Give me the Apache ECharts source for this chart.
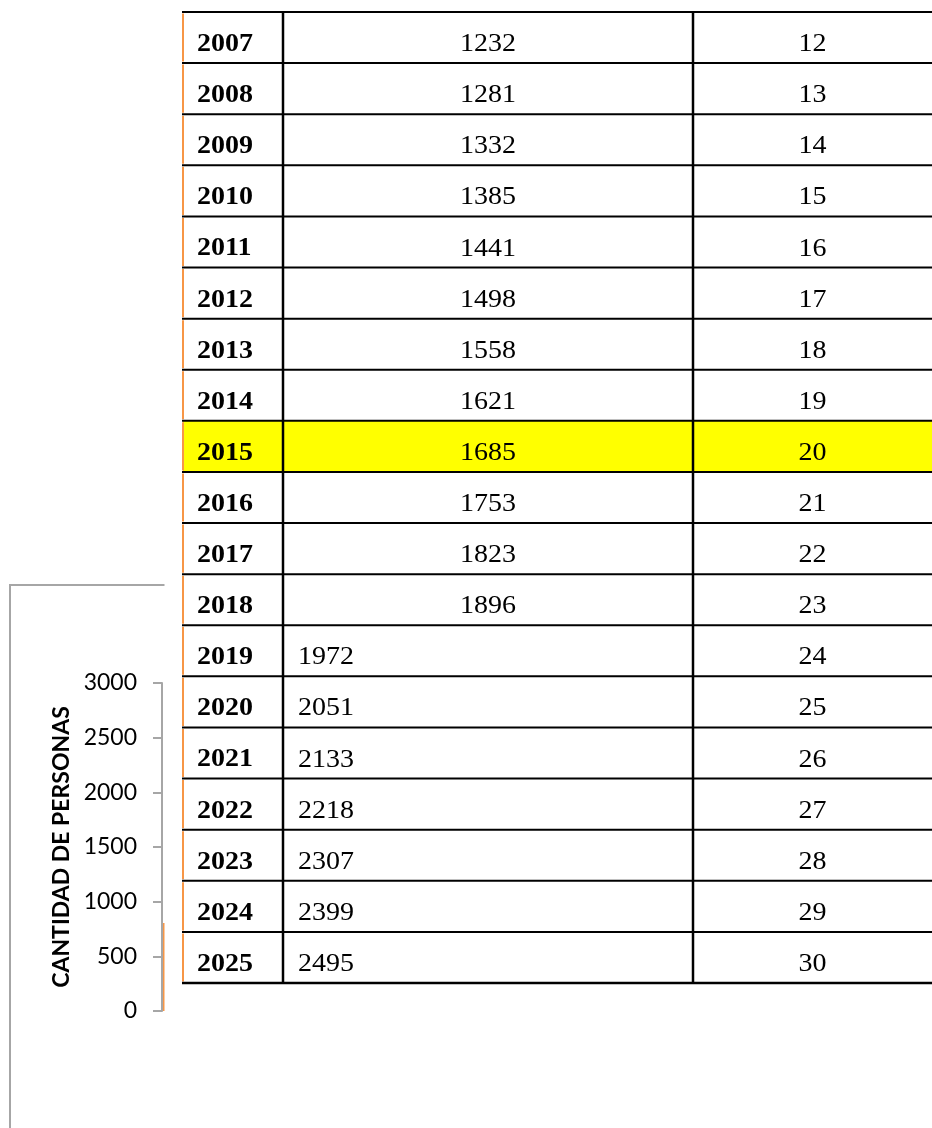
<!DOCTYPE html>
<html>
<head>
<meta charset="utf-8">
<script src="https://cdn.jsdelivr.net/npm/echarts@6/dist/echarts.min.js"></script>
<style>
	html, body { margin: 0; padding: 0; background: #ffffff; }
	#container { width: 932px; height: 1128px; }
</style>
</head>
<body>
<div id="container"></div>
<script>
// datos de la tabla
var anios = [ '2007', '2008', '2009', '2010', '2011', '2012', '2013', '2014', '2015', '2016',
	'2017', '2018', '2019', '2020', '2021', '2022', '2023', '2024', '2025' ];
var poblacion = [ 1232, 1281, 1332, 1385, 1441, 1498, 1558, 1621, 1685, 1753,
	1823, 1896, 1972, 2051, 2133, 2218, 2307, 2399, 2495 ];
var indice = [ 12, 13, 14, 15, 16, 17, 18, 19, 20, 21, 22, 23, 24, 25, 26, 27, 28, 29, 30 ];
var anioResaltado = '2015';

// grafico de fondo (solo se ve el borde de la primera barra)
var barraGrafico = [ 805 ];
var ticksY = [ 0, 500, 1000, 1500, 2000, 2500, 3000 ];

var bordesColumnas = [ 0, 101, 511, 750 ];
var ultimoCentrado = 2018;
var naranja = '#f79646';

function texto( x, y, t, align, bold ) {
	return {
		type: 'text',
		x: x,
		y: y,
		scaleX: 1.12,
		style: {
			text: t,
			fontFamily: 'Liberation Serif',
			fontSize: 25,
			fontWeight: bold ? 'bold' : 'normal',
			fill: '#000',
			align: align,
			verticalAlign: 'middle'
		}
	};
}

function dibujarFila( params, api ) {
	var i = api.value( 1 );
	var centro = api.coord( [ 0, i ] );
	var alto = api.size( [ 0, 1 ] )[ 1 ];
	var arriba = centro[ 1 ] - alto / 2;
	var xs = bordesColumnas.map( function( v ) {
		return api.coord( [ v, i ] )[ 0 ];
	} );
	var yt = centro[ 1 ] + 7;
	var hijos = [];

	if ( anios[ i ] === anioResaltado ) {
		hijos.push( { type: 'rect', shape: { x: xs[ 0 ] + 1, y: arriba, width: xs[ 3 ] - xs[ 0 ], height: alto }, style: { fill: '#ffff00' } } );
	}
	hijos.push( { type: 'line', shape: { x1: xs[ 0 ] + 1, y1: arriba + 1.5, x2: xs[ 0 ] + 1, y2: arriba + alto - 1.5 }, style: { stroke: naranja, lineWidth: 2 } } );
	hijos.push( { type: 'line', shape: { x1: xs[ 0 ], y1: arriba, x2: xs[ 3 ], y2: arriba }, style: { stroke: '#000', lineWidth: 2 } } );
	if ( i === anios.length - 1 ) {
		hijos.push( { type: 'line', shape: { x1: xs[ 0 ], y1: arriba + alto, x2: xs[ 3 ], y2: arriba + alto }, style: { stroke: '#000', lineWidth: 2.5 } } );
	}
	hijos.push( { type: 'line', shape: { x1: xs[ 1 ], y1: arriba, x2: xs[ 1 ], y2: arriba + alto }, style: { stroke: '#000', lineWidth: 2.5 } } );
	hijos.push( { type: 'line', shape: { x1: xs[ 2 ], y1: arriba, x2: xs[ 2 ], y2: arriba + alto }, style: { stroke: '#000', lineWidth: 2.5 } } );

	hijos.push( texto( xs[ 0 ] + 15, yt, anios[ i ], 'left', true ) );
	if ( +anios[ i ] <= ultimoCentrado ) {
		hijos.push( texto( ( xs[ 1 ] + xs[ 2 ] ) / 2, yt, String( api.value( 2 ) ), 'center', false ) );
	} else {
		hijos.push( texto( xs[ 1 ] + 15, yt, String( api.value( 2 ) ), 'left', false ) );
	}
	hijos.push( texto( ( xs[ 2 ] + xs[ 3 ] ) / 2, yt, String( api.value( 3 ) ), 'center', false ) );

	return { type: 'group', children: hijos };
}

var dom = document.getElementById( 'container' );
var myChart = echarts.init( dom, null, { renderer: 'canvas' } );

var option = {
	backgroundColor: '#ffffff',
	animation: false,
	grid: [
		{ left: 182, top: 12, right: 0, bottom: 145 },
		{ left: 162, top: 683, width: 760, bottom: 117 }
	],
	xAxis: [
		{ gridIndex: 0, type: 'value', min: 0, max: 750, show: false },
		{ gridIndex: 1, type: 'category', data: anios, show: false }
	],
	yAxis: [
		{ gridIndex: 0, type: 'category', data: anios, inverse: true, show: false },
		{
			gridIndex: 1,
			type: 'value',
			min: ticksY[ 0 ],
			max: ticksY[ ticksY.length - 1 ],
			interval: 500,
			name: 'CANTIDAD DE PERSONAS',
			nameLocation: 'middle',
			nameRotate: 90,
			nameGap: 78,
			nameTextStyle: { fontFamily: 'Lato', fontWeight: 'bold', fontSize: 23, color: '#000' },
			axisLine: { show: true, lineStyle: { color: '#a6a6a6', width: 2 } },
			axisTick: { show: true, length: 9, lineStyle: { color: '#a6a6a6', width: 2 } },
			axisLabel: {
				fontFamily: 'Lato',
				fontSize: 23,
				color: '#000',
				margin: 25,
				formatter: function( v ) { return String( v ); }
			},
			splitLine: { show: false }
		}
	],
	graphic: [
		{ type: 'rect', z: 1, silent: true, shape: { x: 10, y: 585, width: 900, height: 700 }, style: { fill: 'none', stroke: '#a6a6a6', lineWidth: 2 } },
		{ type: 'rect', z: 4, silent: true, shape: { x: 164.5, y: 570, width: 800, height: 600 }, style: { fill: '#ffffff' } }
	],
	series: [
		{
			name: 'grafico',
			type: 'bar',
			xAxisIndex: 1,
			yAxisIndex: 1,
			data: barraGrafico,
			barCategoryGap: '5%',
			itemStyle: { color: naranja },
			silent: true
		},
		{
			name: 'tabla',
			type: 'custom',
			xAxisIndex: 0,
			yAxisIndex: 0,
			z: 5,
			silent: true,
			renderItem: dibujarFila,
			encode: { x: 0, y: 1 },
			data: anios.map( function( a, i ) {
				return [ 0, i, poblacion[ i ], indice[ i ] ];
			} )
		}
	]
};

if ( option && typeof option === 'object' ) {
	myChart.setOption( option, true );
}
</script>
</body>
</html>
